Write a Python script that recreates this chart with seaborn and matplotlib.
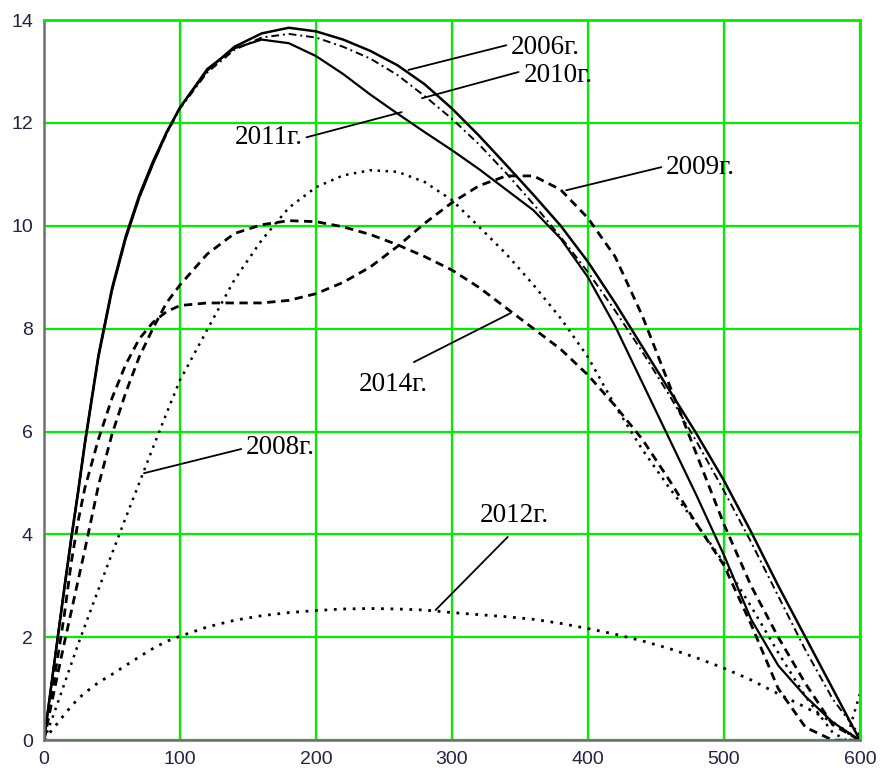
import matplotlib
matplotlib.use("Agg")
import matplotlib.pyplot as plt
import seaborn as sns
import pandas as pd

# --- data ---
x_common = [0, 5, 10, 15, 20, 25, 30, 40, 50, 60, 70, 80, 90, 100, 120, 140, 160, 180, 200,
            220, 240, 260, 280, 300, 320, 340, 360, 380, 400, 420, 440, 460, 480, 500,
            520, 540, 560, 580, 600]

y_2006 = [0, 1.0, 1.98, 2.95, 3.9, 4.8, 5.75, 7.45, 8.75, 9.75, 10.55, 11.2, 11.8, 12.3,
          13.02, 13.48, 13.74, 13.85, 13.78, 13.62, 13.4, 13.12, 12.75, 12.28, 11.75, 11.18,
          10.6, 10.0, 9.3, 8.5, 7.65, 6.8, 5.95, 5.05, 4.05, 3.0, 2.0, 1.0, 0]
y_2010 = [0, 1.0, 1.98, 2.95, 3.9, 4.8, 5.75, 7.45, 8.75, 9.75, 10.55, 11.2, 11.78, 12.28,
          12.98, 13.42, 13.66, 13.73, 13.66, 13.48, 13.25, 12.93, 12.52, 12.08, 11.58, 11.02,
          10.42, 9.78, 9.1, 8.35, 7.55, 6.7, 5.8, 4.85, 3.85, 2.8, 1.75, 0.8, 0.1]
y_2011 = [0, 1.0, 2.0, 3.0, 3.95, 4.85, 5.8, 7.5, 8.8, 9.8, 10.6, 11.25, 11.82, 12.3,
          13.05, 13.45, 13.62, 13.55, 13.3, 12.95, 12.55, 12.18, 11.82, 11.47, 11.1, 10.7,
          10.3, 9.75, 9.0, 8.05, 6.95, 5.85, 4.75, 3.6, 2.35, 1.45, 0.85, 0.35, 0]
y_2009 = [0, 0.8, 1.6, 2.45, 3.45, 4.25, 4.9, 5.85, 6.65, 7.3, 7.8, 8.12, 8.33, 8.45,
          8.5, 8.5, 8.5, 8.55, 8.68, 8.9, 9.2, 9.6, 10.05, 10.45, 10.78, 10.97,
          10.97, 10.7, 10.15, 9.4, 8.25, 6.9, 5.55, 4.2, 3.0, 2.0, 1.1, 0.3, 0]
y_2014 = [0, 0.65, 1.28, 1.9, 2.5, 3.1, 3.7, 4.95, 5.95, 6.75, 7.45, 8.0, 8.5, 8.85,
          9.45, 9.85, 10.02, 10.1, 10.08, 9.98, 9.83, 9.63, 9.4, 9.14, 8.8, 8.4,
          8.0, 7.6, 7.1, 6.5, 5.85, 5.05, 4.2, 3.4, 2.25, 1.0, 0.25, 0.0, 0.0]
y_2012 = [0, 0.17, 0.33, 0.5, 0.66, 0.8, 0.92, 1.12, 1.28, 1.45, 1.62, 1.78, 1.92, 2.02,
          2.2, 2.33, 2.42, 2.48, 2.52, 2.55, 2.56, 2.55, 2.53, 2.48, 2.44, 2.4,
          2.35, 2.27, 2.17, 2.06, 1.93, 1.78, 1.6, 1.4, 1.17, 0.9, 0.64, 0.35, 0.0]

x_2008 = [0, 5, 10, 15, 20, 25, 30, 40, 50, 60, 70, 80, 90, 100, 120, 140, 160, 180, 200,
          220, 240, 260, 280, 300, 320, 340, 360, 380, 400, 420, 440, 460, 480, 500,
          520, 540, 560, 580, 590, 600]
y_2008 = [0, 0.35, 0.72, 1.1, 1.48, 1.86, 2.22, 2.93, 3.63, 4.32, 5.0, 5.68, 6.35, 7.0,
          7.98, 8.95, 9.72, 10.35, 10.75, 10.98, 11.08, 11.05, 10.85, 10.5, 9.98, 9.45,
          8.85, 8.2, 7.45, 6.5, 5.65, 4.9, 4.2, 3.45, 2.6, 1.7, 0.85, 0.15, 0.0, 0.9]

x_ticks = [0, 100, 200, 300, 400, 500, 600]
y_ticks = [0, 2, 4, 6, 8, 10, 12, 14]

sns.set_theme(style="white")
plt.rcParams['font.family'] = ['Liberation Sans', 'DejaVu Sans']

fig = plt.figure(figsize=(8.81, 7.71), dpi=100)
ax = fig.add_axes([0.050, 0.040, 0.926, 0.934])

# (x, y, linewidth, linestyle)
styles = {
    '2006': (x_common, y_2006, 1.8, '-'),
    '2011': (x_common, y_2011, 1.6, '-'),
    '2010': (x_common, y_2010, 1.4, (0, (4, 2, 1, 2))),
    '2009': (x_common, y_2009, 2.0, (0, (3, 2))),
    '2014': (x_common, y_2014, 2.0, (0, (3, 2))),
    '2008': (x_2008, y_2008, 1.8, (0, (1, 2.2))),
    '2012': (x_common, y_2012, 2.0, (0, (1, 2.4))),
}

for year, (xs, ys, lw, ls) in styles.items():
    df = pd.DataFrame({'x': xs, 'y': ys})
    sns.lineplot(data=df, x='x', y='y', ax=ax, color='black', lw=lw,
                 linestyle=ls, errorbar=None)

# leader lines and labels
labels = [
    ('2006г.', (268, 13.03), (340, 13.51), (343, 13.47), 'left'),
    ('2010г.', (278, 12.48), (349, 12.99), (353, 12.93), 'left'),
    ('2011г.', (263, 12.21), (193, 11.72), (190, 11.72), 'right'),
    ('2009г.', (384, 10.69), (454, 11.14), (457, 11.14), 'left'),
    ('2014г.', (343, 8.30), (272, 7.35), (257, 6.92), 'center'),
    ('2008г.', (73.5, 5.19), (145, 5.66), (148, 5.68), 'left'),
    ('2012г.', (288, 2.53), (341, 3.95), (346, 4.37), 'center'),
]
for text, pt, end, tpos, ha in labels:
    ax.annotate('', xy=pt, xytext=end,
                arrowprops=dict(arrowstyle='-', color='black', lw=1.3,
                                shrinkA=0, shrinkB=0))
    ax.text(tpos[0], tpos[1], text, ha=ha, va='center', fontsize=19.5,
            family=['Liberation Serif', 'DejaVu Serif'], color='black')

ax.set_xlim(0, 600)
ax.set_ylim(0, 14)
ax.set_xticks(x_ticks)
ax.set_yticks(y_ticks)
ax.set_xlabel('')
ax.set_ylabel('')
ax.grid(True, color='#00ee00', lw=1.6)
ax.set_axisbelow(True)
ax.tick_params(length=0, labelsize=14, labelcolor='#222244', pad=8)
for side in ['left', 'bottom']:
    ax.spines[side].set_color('#707070')
    ax.spines[side].set_linewidth(1.8)
for side in ['top', 'right']:
    ax.spines[side].set_color('#00ee00')
    ax.spines[side].set_linewidth(2.0)

fig.savefig('out.png', dpi=100)
